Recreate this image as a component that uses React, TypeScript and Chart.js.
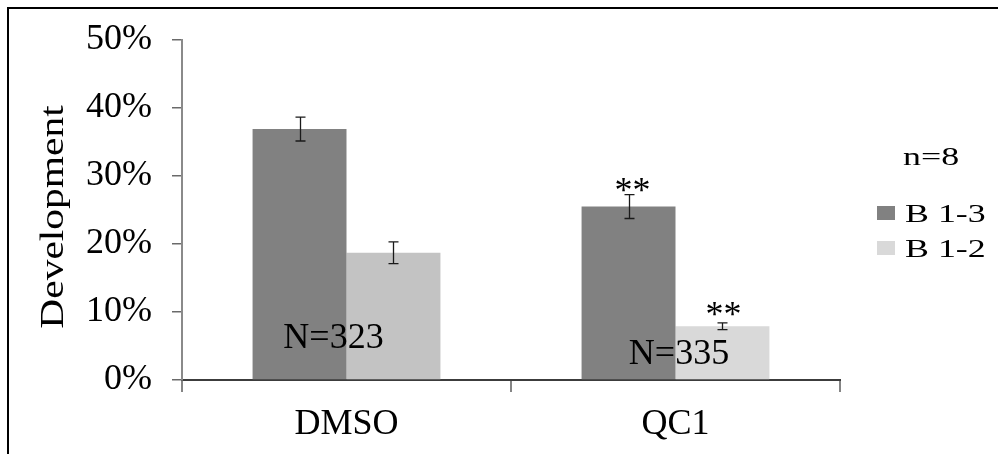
import React, { useEffect, useRef } from 'react';
import { Chart, registerables } from 'chart.js';

Chart.register(...registerables);

// Categories and series
const categories = ['DMSO', 'QC1'];
const seriesNames = ['B 1-3', 'B 1-2'];

// Development rate (%) and standard error per category
const b13Values = [36.9, 25.5];
const b13Errors = [1.75, 1.75];
const b12Values = [18.7, 7.9];
const b12Errors = [1.6, 0.5];

// Significance marks over each bar
const b13Marks = ['', '**'];
const b12Marks = ['', '**'];

// Embryo counts written inside each group
const sampleSizes = ['N=323', 'N=335'];

// Axis ticks
const yTickValues = [0, 10, 20, 30, 40, 50];
const legendTitle = 'n=8';
const yTitle = 'Development';

const SERIF = "'Liberation Serif', 'Times New Roman', serif";
const DARK = '#818181';
const LIGHT_LEGEND = '#d9d9d9';
const LIGHTS = ['#c3c3c3', '#d9d9d9'];

const CANVAS_W = 991;
const CANVAS_H = 447;

const decorations = {
  id: 'decorations',
  afterDatasetsDraw(chart: any) {
    const ctx: CanvasRenderingContext2D = chart.ctx;
    const ys = chart.scales.y;
    const xs = chart.scales.x;
    const area = chart.chartArea;
    const errs = [b13Errors, b12Errors];
    const marks = [b13Marks, b12Marks];
    const markDrop = [7, 3];
    const markShift = [4, 1];

    ctx.save();
    chart.data.datasets.forEach((ds: any, di: number) => {
      const meta = chart.getDatasetMeta(di);
      meta.data.forEach((bar: any, i: number) => {
        const v = ds.data[i];
        const e = errs[di][i];
        const top = ys.getPixelForValue(v + e);
        const bot = ys.getPixelForValue(v - e);
        const cx = Math.round(bar.x) + 0.5;
        ctx.strokeStyle = '#1a1a1a';
        ctx.lineWidth = 1.3;
        ctx.beginPath();
        ctx.moveTo(cx, top);
        ctx.lineTo(cx, bot);
        ctx.moveTo(cx - 5, top);
        ctx.lineTo(cx + 5, top);
        ctx.moveTo(cx - 5, bot);
        ctx.lineTo(cx + 5, bot);
        ctx.stroke();

        const m = marks[di][i];
        if (m) {
          ctx.fillStyle = '#000';
          ctx.font = `36px ${SERIF}`;
          ctx.textAlign = 'center';
          ctx.textBaseline = 'alphabetic';
          ctx.fillText(m, bar.x + markShift[di], top + markDrop[di]);
        }
      });
    });

    // sample size labels inside each group
    const nShift = [-13, 3.5];
    const nLift = [32, 16];
    ctx.fillStyle = '#000';
    ctx.font = `36px ${SERIF}`;
    ctx.textAlign = 'center';
    ctx.textBaseline = 'alphabetic';
    sampleSizes.forEach((s, i) => {
      ctx.fillText(s, xs.getPixelForValue(i) + nShift[i], area.bottom - nLift[i]);
    });
    ctx.restore();
  },
  afterDraw(chart: any) {
    const ctx: CanvasRenderingContext2D = chart.ctx;
    const area = chart.chartArea;
    ctx.save();

    // frame (top and left edges)
    ctx.fillStyle = '#000';
    ctx.fillRect(0, 0, CANVAS_W, 2);
    ctx.fillRect(0, 0, 2, CANVAS_H);

    // rotated axis title
    ctx.save();
    ctx.translate(56, (area.top + area.bottom) / 2 + 7);
    ctx.rotate(-Math.PI / 2);
    ctx.scale(1.22, 1);
    ctx.font = `34px ${SERIF}`;
    ctx.textAlign = 'center';
    ctx.textBaseline = 'alphabetic';
    ctx.fillStyle = '#000';
    ctx.fillText(yTitle, 0, 0);
    ctx.restore();

    // legend
    const lx = area.right + 37;
    const drawText = (t: string, x: number, y: number) => {
      ctx.save();
      ctx.translate(x, y);
      ctx.scale(1.38, 1);
      ctx.font = `26px ${SERIF}`;
      ctx.textAlign = 'left';
      ctx.textBaseline = 'alphabetic';
      ctx.fillStyle = '#000';
      ctx.fillText(t, 0, 0);
      ctx.restore();
    };
    drawText(legendTitle, lx + 26, area.top + 125);
    const swatches = [DARK, LIGHT_LEGEND];
    seriesNames.forEach((name, i) => {
      const rowBase = area.top + 182 + i * 35;
      ctx.fillStyle = swatches[i];
      ctx.fillRect(lx, rowBase - 16, 18, 14);
      drawText(name, lx + 28, rowBase);
    });
    ctx.restore();
  },
};

export default function App() {
  const ref = useRef<HTMLCanvasElement | null>(null);

  useEffect(() => {
    if (!ref.current) return;
    const chart = new Chart(ref.current, {
      type: 'bar',
      data: {
        labels: categories,
        datasets: [
          {
            label: seriesNames[0],
            data: b13Values,
            backgroundColor: DARK,
            borderWidth: 0,
            barPercentage: 1,
            categoryPercentage: 0.571,
          },
          {
            label: seriesNames[1],
            data: b12Values,
            backgroundColor: LIGHTS,
            borderWidth: 0,
            barPercentage: 1,
            categoryPercentage: 0.571,
          },
        ],
      },
      options: {
        responsive: false,
        animation: false,
        devicePixelRatio: 1,
        layout: { padding: { left: 0, top: 33, right: 158, bottom: 0 } },
        plugins: {
          legend: { display: false },
          tooltip: { enabled: false },
          title: { display: false },
        },
        scales: {
          x: {
            type: 'category',
            offset: true,
            grid: {
              offset: true,
              drawOnChartArea: false,
              drawTicks: true,
              tickLength: 12,
              color: '#858585',
              lineWidth: 2,
            },
            border: { display: true, color: '#3c3c3c', width: 2 },
            ticks: {
              color: '#000',
              font: { family: SERIF, size: 36 },
              padding: 11,
              maxRotation: 0,
            },
            afterFit(scale: any) {
              scale.height = CANVAS_H - 373;
              scale.paddingLeft = 0;
              scale.paddingRight = 0;
            },
          },
          y: {
            min: 0,
            max: 50,
            afterBuildTicks(scale: any) {
              scale.ticks = yTickValues.map((v) => ({ value: v }));
            },
            grid: {
              drawOnChartArea: false,
              drawTicks: true,
              tickLength: 10,
              color: '#6a6a6a',
              lineWidth: 1.5,
            },
            border: { display: true, color: '#8a8a8a', width: 2 },
            ticks: {
              color: '#000',
              font: { family: SERIF, size: 36 },
              padding: 20,
              callback: (v: any) => `${v}%`,
            },
            afterFit(scale: any) {
              scale.width = 175;
              scale.paddingTop = 0;
              scale.paddingBottom = 0;
            },
          },
        },
      },
      plugins: [decorations],
    } as any);
    return () => chart.destroy();
  }, []);

  return (
    <div style={{ position: 'absolute', left: 7, top: 7, width: CANVAS_W, height: CANVAS_H }}>
      <canvas ref={ref} width={CANVAS_W} height={CANVAS_H} />
    </div>
  );
}
